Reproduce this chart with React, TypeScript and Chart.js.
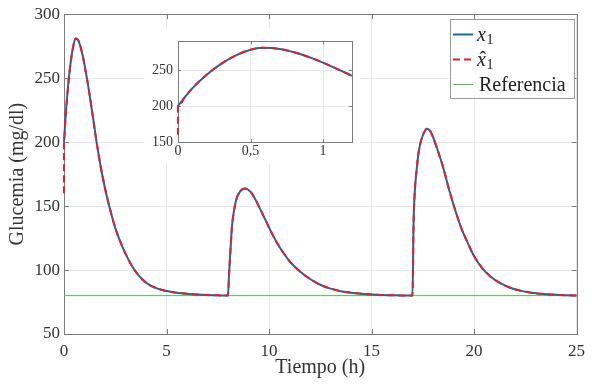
import React, { useEffect, useRef } from "react";
import { Chart, registerables } from "chart.js";

Chart.register(...registerables);

// ---- Data ----
const timeHours = [
  0, 0.05, 0.1, 0.2, 0.3, 0.4, 0.5, 0.58, 0.7, 0.8, 0.9, 1.0, 1.1, 1.2, 1.4, 1.6, 1.8, 2.0, 2.2,
  2.5, 2.8, 3.1, 3.4, 3.8, 4.2, 4.6, 5.0, 5.5, 6.0, 6.5, 7.0, 7.5, 8.0,
  8.05, 8.1, 8.2, 8.3, 8.4, 8.55, 8.7, 8.85, 9.0, 9.2, 9.5, 9.8, 10.1, 10.4, 10.7, 11.0, 11.5, 12.0,
  12.5, 13.0, 13.5, 14.0, 14.5, 15.0, 15.5, 16.0, 16.5, 17.0,
  17.05, 17.1, 17.2, 17.3, 17.4, 17.55, 17.7, 17.85, 18.0, 18.2, 18.5, 18.8, 19.1, 19.4, 19.7, 20.0,
  20.4, 20.8, 21.3, 21.8, 22.3, 22.8, 23.4, 24.0, 24.5, 25.0,
];
const glucoseX1 = [
  200, 213, 225, 244, 259, 270.5, 278.5, 281, 279.5, 275, 268.5, 260.5, 251.5, 242, 221, 199, 180, 164, 150.5,
  133, 120, 109.5, 101, 93, 88, 85.3, 83.6, 82.3, 81.4, 80.8, 80.4, 80.2, 80,
  96, 110, 135, 147, 155, 160.5, 163, 163.7, 162.5, 159, 150, 140, 130, 121, 113.5, 107, 99, 93,
  88.5, 85.5, 83.5, 82.3, 81.5, 80.9, 80.5, 80.3, 80.1, 80,
  135, 158, 178, 192, 200, 207, 210.5, 209, 204, 195, 180, 162, 146, 132, 121, 111,
  101.5, 95, 89.5, 86, 83.7, 82.2, 81.2, 80.6, 80.3, 80.1,
];
// estimator starts lower, then coincides with x1
const estimateStartTime = [0];
const estimateStartValue = [160];
const referenceTimes = [0, 25];
const referenceValues = [80, 80];

const mainXTicks = [0, 5, 10, 15, 20, 25];
const mainYTicks = [50, 100, 150, 200, 250, 300];
const insetXTicks = [0, 0.5, 1];
const insetXTickLabels = ["0", "0,5", "1"];
const insetYTicks = [150, 200, 250];

const seriesLabels = ["x1", "x\u03021", "Referencia"];
const xTitle = "Tiempo (h)";
const yTitle = "Glucemia (mg/dl)";

// ---- Styles ----
const FONT = "'Liberation Serif', 'DejaVu Serif', serif";
const BLUE = "#0f6aae";
const RED = "#e2202c";
const GREEN = "#4fc04f";
const FRAME = "#7c7c7c";
const GRID = "#e8e8e8";
const TEXT = "#333333";

const x1Points = () => timeHours.map((t, i) => ({ x: t, y: glucoseX1[i] }));
const estimatePoints = () => [
  ...estimateStartTime.map((t, i) => ({ x: t, y: estimateStartValue[i] })),
  ...x1Points(),
];
const referencePoints = () => referenceTimes.map((t, i) => ({ x: t, y: referenceValues[i] }));

const makeDatasets = (clip: any) => [
  {
    label: seriesLabels[0],
    data: x1Points(),
    borderColor: BLUE,
    borderWidth: 2,
    pointRadius: 0,
    cubicInterpolationMode: "monotone" as const,
    order: 1,
    clip,
  },
  {
    label: seriesLabels[1],
    data: estimatePoints(),
    borderColor: RED,
    borderWidth: 2,
    borderDash: [7, 4],
    pointRadius: 0,
    cubicInterpolationMode: "monotone" as const,
    order: 0,
    clip,
  },
  {
    label: seriesLabels[2],
    data: referencePoints(),
    borderColor: GREEN,
    borderWidth: 1,
    pointRadius: 0,
    order: 2,
    clip,
  },
];

const frameTicksPlugin = {
  id: "frameTicks",
  beforeDatasetsDraw(chart: any, _args: any, opts: any) {
    const { ctx, chartArea } = chart;
    const { left, right, top, bottom } = chartArea;
    const xs = chart.scales.x;
    const ys = chart.scales.y;
    const len = opts.len || 5;
    ctx.save();
    ctx.strokeStyle = FRAME;
    ctx.lineWidth = 1;
    ctx.beginPath();
    xs.ticks.forEach((t: any) => {
      const px = Math.round(xs.getPixelForValue(t.value)) + 0.5;
      ctx.moveTo(px, bottom);
      ctx.lineTo(px, bottom - len);
      ctx.moveTo(px, top);
      ctx.lineTo(px, top + len);
    });
    ys.ticks.forEach((t: any) => {
      const py = Math.round(ys.getPixelForValue(t.value)) + 0.5;
      ctx.moveTo(left, py);
      ctx.lineTo(left + len, py);
      ctx.moveTo(right, py);
      ctx.lineTo(right - len, py);
    });
    ctx.stroke();
    ctx.strokeRect(Math.round(left) + 0.5, Math.round(top) + 0.5, Math.round(right - left), Math.round(bottom - top));
    ctx.restore();
  },
};

const legendPlugin = {
  id: "boxLegend",
  afterDraw(chart: any) {
    const { ctx } = chart;
    const bx = 450, by = 19, bw = 124, bh = 79;
    ctx.save();
    ctx.fillStyle = "#ffffff";
    ctx.fillRect(bx, by, bw, bh);
    ctx.strokeStyle = "#9a9a9a";
    ctx.lineWidth = 1;
    ctx.strokeRect(bx + 0.5, by + 0.5, bw, bh);
    const rows = [34, 59, 84];
    chart.data.datasets.forEach((ds: any, i: number) => {
      const y = rows[i];
      ctx.save();
      ctx.strokeStyle = ds.borderColor;
      ctx.lineWidth = ds.borderWidth;
      ctx.setLineDash(ds.borderDash || []);
      ctx.beginPath();
      ctx.moveTo(453, y + 0.5);
      ctx.lineTo(473, y + 0.5);
      ctx.stroke();
      ctx.restore();
      const label: string = ds.label;
      const tx = 477;
      const base = y + 7;
      ctx.fillStyle = "#222222";
      ctx.textBaseline = "alphabetic";
      ctx.textAlign = "left";
      const m = label.match(/^(x)(\u0302?)(\d)$/);
      if (m) {
        ctx.font = `italic 20px ${FONT}`;
        const w = ctx.measureText(m[1]).width;
        ctx.fillText(m[1], tx, base);
        if (m[2]) {
          ctx.textAlign = "center";
          ctx.font = `20px ${FONT}`;
          ctx.fillText("\u02c6", tx + w / 2 + 1.5, base);
          ctx.textAlign = "left";
        }
        ctx.font = `14px ${FONT}`;
        ctx.fillText(m[3], tx + w + 0.5, base + 3);
      } else {
        ctx.font = `20px ${FONT}`;
        ctx.fillText(label, tx + 2, base);
      }
    });
    ctx.restore();
  },
};

const whiteBgPlugin = {
  id: "whiteBg",
  beforeDraw(chart: any) {
    const { ctx, width, height } = chart;
    ctx.save();
    ctx.fillStyle = "#ffffff";
    ctx.fillRect(0, 0, width, height);
    ctx.restore();
  },
};

function mainConfig(): any {
  return {
    type: "line",
    data: { datasets: makeDatasets(false) },
    plugins: [whiteBgPlugin, frameTicksPlugin, legendPlugin],
    options: {
      responsive: false,
      animation: false,
      events: [],
      layout: { padding: { left: 0, right: 8, top: 10, bottom: 0 } },
      plugins: {
        legend: { display: false },
        tooltip: { enabled: false },
        frameTicks: { len: 5 },
      },
      scales: {
        x: {
          type: "linear",
          min: 0,
          max: 25,
          afterBuildTicks: (s: any) => { s.ticks = mainXTicks.map((v) => ({ value: v })); },
          afterFit: (s: any) => { s.height = 51; },
          grid: { color: GRID, drawTicks: false },
          border: { display: false },
          ticks: { color: TEXT, font: { family: FONT, size: 17 }, padding: 7, maxRotation: 0 },
          title: { display: true, text: xTitle, color: TEXT, font: { family: FONT, size: 20 }, padding: { top: 0, bottom: 5 } },
        },
        y: {
          type: "linear",
          min: 50,
          max: 300,
          afterBuildTicks: (s: any) => { s.ticks = mainYTicks.map((v) => ({ value: v })); },
          afterFit: (s: any) => { s.width = 64; },
          grid: { color: GRID, drawTicks: false },
          border: { display: false },
          ticks: { color: TEXT, font: { family: FONT, size: 17 }, padding: 4 },
          title: { display: true, text: yTitle, color: TEXT, font: { family: FONT, size: 20 }, padding: { top: 6, bottom: 0 } },
        },
      },
    },
  };
}

function insetConfig(): any {
  return {
    type: "line",
    data: { datasets: makeDatasets(2) },
    plugins: [whiteBgPlugin, frameTicksPlugin],
    options: {
      responsive: false,
      animation: false,
      events: [],
      layout: { padding: { left: 0, right: 8, top: 8, bottom: 0 } },
      plugins: {
        legend: { display: false },
        tooltip: { enabled: false },
        frameTicks: { len: 3 },
      },
      scales: {
        x: {
          type: "linear",
          min: 0,
          max: 1.2,
          afterBuildTicks: (s: any) => { s.ticks = insetXTicks.map((v) => ({ value: v })); },
          afterFit: (s: any) => { s.height = 22; },
          grid: { color: GRID, drawTicks: false },
          border: { display: false },
          ticks: {
            color: TEXT,
            font: { family: FONT, size: 14 },
            padding: 1,
            maxRotation: 0,
            callback: (v: number) => {
              const idx = insetXTicks.indexOf(v);
              return idx >= 0 ? insetXTickLabels[idx] : String(v);
            },
          },
        },
        y: {
          type: "linear",
          min: 150,
          max: 290,
          afterBuildTicks: (s: any) => { s.ticks = insetYTicks.map((v) => ({ value: v })); },
          afterFit: (s: any) => { s.width = 33; },
          grid: { color: GRID, drawTicks: false },
          border: { display: false },
          ticks: { color: TEXT, font: { family: FONT, size: 14 }, padding: 5 },
        },
      },
    },
  };
}

export default function App() {
  const mainRef = useRef<HTMLCanvasElement>(null);
  const insetRef = useRef<HTMLCanvasElement>(null);

  useEffect(() => {
    const main = new Chart(mainRef.current as HTMLCanvasElement, mainConfig());
    const inset = new Chart(insetRef.current as HTMLCanvasElement, insetConfig());
    return () => {
      main.destroy();
      inset.destroy();
    };
  }, []);

  return (
    <div style={{ position: "fixed", left: 0, top: 0, width: 592, height: 385, background: "#ffffff", overflow: "hidden" }}>
      <canvas ref={mainRef} width={592} height={385} style={{ position: "absolute", left: 0, top: 0, width: 592, height: 385 }} />
      <canvas ref={insetRef} width={215} height={136} style={{ position: "absolute", left: 145, top: 28, width: 215, height: 136 }} />
    </div>
  );
}
